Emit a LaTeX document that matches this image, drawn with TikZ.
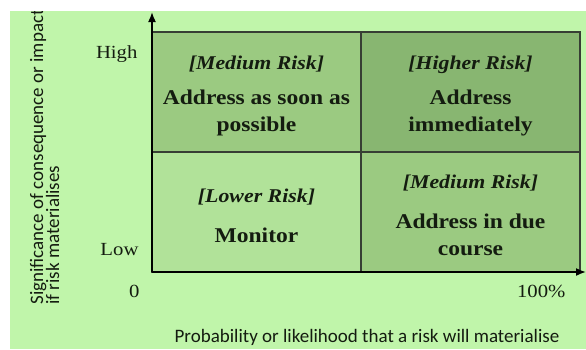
\documentclass[tikz,border=0pt]{standalone}
\usepackage{fontspec}
\setmainfont{Liberation Serif}[FakeStretch=1.12]
\newfontfamily\calfont{Carlito}
\definecolor{bgg}{HTML}{C0F5AA}
\definecolor{cmed}{HTML}{9BCA81}
\definecolor{chigh}{HTML}{88B671}
\definecolor{clow}{HTML}{B1E299}
\definecolor{ink}{HTML}{141C10}
\tikzset{
  cell/.style={draw=ink!85, line width=1.2pt},
  ttl/.style={anchor=base, text=ink, font=\fontsize{19.5}{22}\selectfont\bfseries\itshape},
  act/.style={anchor=base, text=ink, font=\fontsize{21}{24}\selectfont\bfseries},
  tick/.style={text=ink, font=\fontsize{18.5}{22}\selectfont},
  axlab/.style={text=ink, font=\calfont\fontsize{19}{22}\selectfont},
  axis/.style={draw=black, line width=1.6pt, -{Latex[length=10pt,width=8pt]}}
}
\usetikzlibrary{arrows.meta}
\begin{document}
\begin{tikzpicture}[x=1pt,y=-1pt]
\useasboundingbox (0,0) rectangle (586,349);
\fill[white] (0,0) rectangle (586,349);
\fill[bgg] (10,11) rectangle (586,349);
% cells
\fill[cmed] (152,32) rectangle (361,152);
\fill[chigh] (361,32) rectangle (580,152);
\fill[clow] (152,152) rectangle (361,272);
\fill[cmed] (361,152) rectangle (580,272);
\draw[cell] (152,32) rectangle (580,272);
\draw[cell] (361,32) -- (361,272);
\draw[cell] (152,152) -- (580,152);
% axes
\coordinate (org) at (152,272);
\coordinate (ytop) at (152,12);
\coordinate (xend) at (586,272);
\draw[axis] (org) -- (ytop);
\draw[axis] (org) -- (xend);
% cell texts
\node[ttl] (t11) at (256.5,69) {[Medium Risk]};
\node[act] (a11) at (256.5,104) {Address as soon as};
\node[act] (b11) at (256.5,131) {possible};
\node[ttl] (t12) at (470.5,69) {[Higher Risk]};
\node[act] (a12) at (470.5,104) {Address};
\node[act] (b12) at (470.5,131) {immediately};
\node[ttl] (t21) at (256.5,202) {[Lower Risk]};
\node[act] (a21) at (256.5,242) {Monitor};
\node[ttl] (t22) at (470.5,188) {[Medium Risk]};
\node[act] (a22) at (470.5,228) {Address in due};
\node[act] (b22) at (470.5,255) {course};
% ticks
\node[tick, anchor=base east] (hi) at (141,58) {High};
\node[tick, anchor=base east] (lo) at (142,255) {Low};
\node[tick, anchor=base east] (zero) at (143,297) {0};
\node[tick, anchor=base east] (hundred) at (569,297) {100\%};
% axis labels
\node[axlab, anchor=base] (xlab) at (367,342) {Probability or likelihood that a risk will materialise};
\begin{scope}
\clip (10,11) rectangle (586,349);
\node[axlab, rotate=90, anchor=base west] (ylab1) at (43,308) {Significance of consequence or impact};
\end{scope}
\node[axlab, rotate=90, anchor=base west] (ylab2) at (59,308) {if risk materialises};
\end{tikzpicture}
\end{document}
